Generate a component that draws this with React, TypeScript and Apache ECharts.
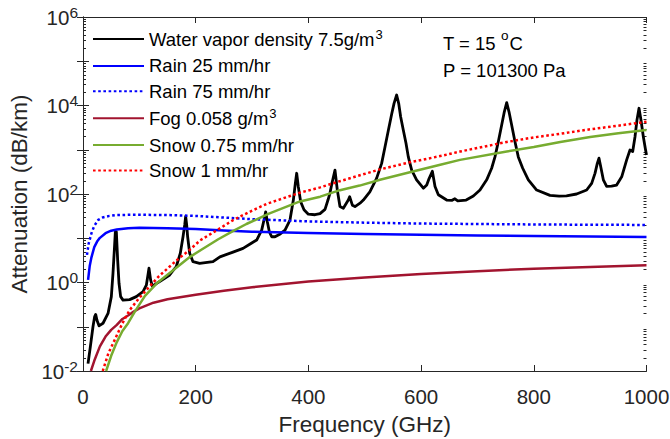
import React, { useEffect, useRef } from "react";
import * as echarts from "echarts";

const FONT = "'Liberation Sans', Arial, Helvetica, sans-serif";
const AXIS_COLOR = "#262626";

// x axis (GHz)
const xMin = 0;
const xMax = 1000;
const xInterval = 200;
// y axis (dB/km), log scale
const yMin = 0.01;
const yMax = 1e6;
// minor log ticks: multipliers within each decade, and decades covered
const minorMultipliers = [2, 3, 4, 5, 6, 7, 8, 9];
const minorDecades = [-2, -1, 0, 1, 2, 3, 4, 5];

const seriesNames = [
  "Water vapor density 7.5g/m3",
  "Rain 25 mm/hr",
  "Rain 75 mm/hr",
  "Fog 0.058 g/m3",
  "Snow 0.75 mm/hr",
  "Snow 1 mm/hr",
];

// [frequency GHz, attenuation dB/km]
const waterVapor: [number, number][] = [
  [8.9, 0.0147], [13, 0.035], [17.7, 0.1], [20.7, 0.17], [22.5, 0.19], [24.8, 0.14],
  [28.4, 0.105], [35.5, 0.12], [44.4, 0.2], [50.3, 0.48], [53.2, 1.6], [55.6, 5.4],
  [57.4, 14], [59.2, 14], [61.5, 3.2], [63.9, 0.96], [66.8, 0.48], [71, 0.4], [82.8, 0.41],
  [94.6, 0.48], [106.5, 0.62], [112.4, 0.87], [115, 1.4], [117.1, 2.1], [120, 1.14],
  [123, 0.83], [136, 1.05], [153.8, 1.48], [165.6, 2.3], [172.7, 4.6], [177.5, 10.8],
  [180.5, 20], [182.2, 31], [184, 20], [185.7, 10.8], [189.3, 4.6], [195.2, 2.95],
  [207, 2.7], [230.7, 2.95], [243, 3.8], [265, 4.8], [284, 5.9], [298, 7.6], [308.2, 9.1],
  [317.1, 15.3], [321.2, 25.8], [324.2, 39.5], [327.1, 23.7], [330.7, 14], [334.8, 10.8],
  [340.7, 10.8], [350, 12.5], [358.5, 15.3], [367.3, 25.8], [373.3, 73], [376.8, 174],
  [379.2, 294], [382.1, 146], [386.3, 67], [392.2, 44], [399.9, 35], [411.7, 34],
  [420.6, 36], [429.5, 45], [435, 75], [438.3, 105], [442, 180], [447.2, 347],
  [451.3, 123], [456, 52], [462, 47.5], [470.8, 73], [473.2, 87], [478, 56], [482.7, 52],
  [491.6, 62], [497.5, 73], [509, 112], [521, 226], [530, 492], [536, 1170], [542, 2790],
  [548, 6600], [552, 11200], [556.6, 17300], [560.2, 11200], [563.7, 5580], [568.4, 2790],
  [573.2, 1400], [577.3, 690], [583.3, 347], [592, 209], [604, 135], [610, 160],
  [614, 220], [620, 326], [624.7, 147], [630.6, 96], [645.4, 73], [655, 72], [660, 78],
  [665, 70], [680, 73], [692.7, 90], [704.5, 123], [716.4, 209], [725.2, 382],
  [731.1, 690], [737, 1520], [743, 3630], [747.7, 7200], [751.9, 11560], [756, 7200],
  [760.7, 3630], [766.6, 1520], [772.5, 690], [780.3, 382], [790.3, 209], [805.1, 123],
  [828.7, 93], [845, 90], [858, 91], [876, 100], [893.8, 123], [902.7, 174], [908.6, 293],
  [912.7, 492], [915.7, 645], [918.7, 420], [923.4, 209], [929.3, 148], [938, 150],
  [947, 159], [956, 245], [964.8, 590], [970.7, 985], [975.5, 910], [979.6, 1970],
  [983.1, 4700], [986.7, 8650], [990.2, 4700], [994.4, 1970], [997.9, 1070], [1000, 760],
];

const rain25: [number, number][] = [
  [9, 1.15], [12, 2.4], [15, 3.7], [20, 6.3], [25, 8.4], [30, 10.2], [40, 13], [50, 14.8],
  [60, 15.8], [80, 16.9], [100, 17.2], [150, 16.9], [200, 16.1], [250, 15], [300, 14.1],
  [400, 13.2], [500, 12.5], [600, 12], [700, 11.6], [800, 11.2], [900, 10.9], [1000, 10.7],
];

const rain75: [number, number][] = [
  [7, 4.2], [10, 7.5], [15, 13], [20, 19], [27, 26], [35, 29.5], [47, 32], [60, 33.5],
  [90, 34], [150, 33.5], [200, 32], [300, 27], [400, 24], [500, 22.5], [600, 21.5],
  [700, 21], [800, 20.5], [900, 20.2], [1000, 20],
];

const fog: [number, number][] = [
  [14, 0.01], [20, 0.017], [30, 0.036], [40, 0.06], [50, 0.085], [60, 0.11], [70, 0.15],
  [80, 0.18], [90, 0.22], [100, 0.26], [125, 0.35], [150, 0.42], [200, 0.53], [250, 0.65],
  [300, 0.78], [400, 1.05], [500, 1.3], [600, 1.55], [700, 1.8], [800, 2.05], [900, 2.25],
  [1000, 2.45],
];

const snow075: [number, number][] = [
  [41, 0.01], [50, 0.022], [60, 0.045], [70, 0.08], [80, 0.12], [92, 0.22], [110, 0.5],
  [131, 0.96], [160, 1.9], [190, 3.8], [210, 5.5], [240, 9.5], [266, 14.5], [290, 21],
  [330, 36], [385, 68], [421, 87], [456, 122], [491, 155], [527, 210], [580, 310],
  [634, 460], [669, 590], [752, 910], [800, 1150], [847, 1500], [900, 1950], [950, 2350],
  [1000, 2800],
];

const snow1: [number, number][] = [
  [35, 0.01], [45, 0.025], [59, 0.06], [70, 0.12], [83, 0.24], [100, 0.45], [118, 0.81],
  [135, 1.4], [154, 2.3], [170, 3.5], [189, 5.4], [208, 9], [231, 13.5], [267, 26],
  [300, 42], [326, 60], [385, 107], [421, 141], [453, 190], [527, 360], [580, 520],
  [634, 720], [669, 910], [752, 1500], [800, 1900], [847, 2300], [900, 2900], [950, 3500],
  [1000, 4300],
];

const legendRich: Record<string, string> = {
  "Water vapor density 7.5g/m3": "{n|Water vapor density 7.5g/m}{s|3}",
  "Rain 25 mm/hr": "{m|Rain 25 mm/hr}",
  "Rain 75 mm/hr": "{m|Rain 75 mm/hr}",
  "Fog 0.058 g/m3": "{n|Fog 0.058 g/m}{s|3}",
  "Snow 0.75 mm/hr": "{m|Snow 0.75 mm/hr}",
  "Snow 1 mm/hr": "{m|Snow 1 mm/hr}",
};

function buildOption(): any {
  const lineSeries = (
    name: string,
    data: [number, number][],
    color: string,
    width: number,
    dotted: boolean
  ) => ({
    type: "line",
    name,
    data,
    xAxisIndex: 0,
    yAxisIndex: 0,
    showSymbol: false,
    symbol: "none",
    smooth: false,
    clip: true,
    lineStyle: {
      color,
      width,
      type: dotted ? [2.6, 2.6] : "solid",
      cap: "butt",
      join: "round",
    },
    itemStyle: { color },
    emphasis: { disabled: true },
  });

  const yLabelFormatter = (v: number) => {
    const e = Math.round(Math.log10(v));
    if (e % 2 !== 0) return "";
    return `{b|10}{s|${e}}`;
  };

  const minorTickData: [number, number][] = [];
  minorDecades.forEach((d) =>
    minorMultipliers.forEach((m) => minorTickData.push([xMin, m * Math.pow(10, d)]))
  );

  const commonX = {
    type: "value",
    min: xMin,
    max: xMax,
    interval: xInterval,
    splitLine: { show: false },
    axisLine: { show: true, onZero: false, lineStyle: { color: AXIS_COLOR, width: 1 } },
    axisTick: { show: true, inside: true, length: 6, lineStyle: { color: AXIS_COLOR } },
  };

  const commonY = {
    type: "log",
    logBase: 10,
    min: yMin,
    max: yMax,
    splitLine: { show: false },
    axisLine: { show: true, lineStyle: { color: AXIS_COLOR, width: 1 } },
    axisTick: { show: true, inside: true, length: 6, lineStyle: { color: AXIS_COLOR } },
    minorTick: { show: false },
  };

  return {
    animation: false,
    backgroundColor: "#ffffff",
    grid: {
      left: 83,
      right: 23.5,
      top: 17,
      bottom: 68,
      containLabel: false,
      outerBoundsMode: "none",
    },
    legend: {
      orient: "vertical",
      left: 92,
      top: 28,
      itemWidth: 51,
      itemHeight: 14,
      itemGap: 6.4,
      padding: 0,
      selectedMode: false,
      data: seriesNames,
      itemStyle: { opacity: 0, borderWidth: 0 },
      formatter: (name: string) => legendRich[name] || name,
      textStyle: {
        fontFamily: FONT,
        fontSize: 18.5,
        color: "#000",
        padding: [0, 0, 0, 0],
        rich: {
          n: { fontFamily: FONT, fontSize: 18.5, color: "#000", lineHeight: 26, verticalAlign: "middle" },
          m: { fontFamily: FONT, fontSize: 18.5, color: "#000", lineHeight: 22, verticalAlign: "middle" },
          s: {
            fontFamily: FONT,
            fontSize: 13,
            color: "#000",
            lineHeight: 26,
            verticalAlign: "middle",
            padding: [0, 0, 9, 1],
          },
        },
      },
    },
    xAxis: [
      {
        ...commonX,
        position: "bottom",
        name: "Frequency (GHz)",
        nameLocation: "middle",
        nameGap: 42,
        nameTextStyle: { fontFamily: FONT, fontSize: 22.5, color: AXIS_COLOR },
        axisLabel: {
          show: true,
          margin: 15,
          fontFamily: FONT,
          fontSize: 20.5,
          color: AXIS_COLOR,
          formatter: (v: number) => String(v),
        },
      },
      {
        ...commonX,
        position: "top",
        axisLabel: { show: false },
      },
    ],
    yAxis: [
      {
        ...commonY,
        position: "left",
        name: "Attenuation (dB/km)",
        nameLocation: "middle",
        nameRotate: 90,
        nameGap: 51,
        nameTextStyle: { fontFamily: FONT, fontSize: 22.5, color: AXIS_COLOR },
        axisLabel: {
          show: true,
          margin: 5,
          formatter: yLabelFormatter,
          rich: {
            b: { fontFamily: FONT, fontSize: 20.5, color: AXIS_COLOR, lineHeight: 24, verticalAlign: "middle" },
            s: {
              fontFamily: FONT,
              fontSize: 15.5,
              color: AXIS_COLOR,
              lineHeight: 24,
              verticalAlign: "middle",
              padding: [0, 0, 10, 0],
            },
          },
        },
      },
      {
        ...commonY,
        position: "right",
        axisLabel: { show: false },
      },
    ],
    graphic: [
      {
        type: "text",
        left: 443,
        top: 28,
        silent: true,
        style: {
          text: "{n|T = 15 }{o|o}{n|C}",
          fill: "#000",
          rich: {
            n: { fontFamily: FONT, fontSize: 18.5, fill: "#000", lineHeight: 24, verticalAlign: "middle" },
            o: {
              fontFamily: FONT,
              fontSize: 13.5,
              fill: "#000",
              lineHeight: 24,
              verticalAlign: "middle",
              padding: [0, 1, 16, 0],
            },
          },
        },
      },
      {
        type: "text",
        left: 443,
        top: 61,
        silent: true,
        style: {
          text: "P = 101300 Pa",
          fill: "#000",
          fontFamily: FONT,
          fontSize: 18.5,
        },
      },
    ],
    series: [
      lineSeries(seriesNames[0], waterVapor, "#000000", 2.8, false),
      lineSeries(seriesNames[1], rain25, "#0000FF", 2.5, false),
      lineSeries(seriesNames[2], rain75, "#0000FF", 2.5, true),
      lineSeries(seriesNames[3], fog, "#A2142F", 2.5, false),
      lineSeries(seriesNames[4], snow075, "#77AC30", 2.5, false),
      lineSeries(seriesNames[5], snow1, "#FF0000", 2.5, true),
      {
        type: "custom",
        name: "minorTicks",
        silent: true,
        clip: false,
        xAxisIndex: 0,
        yAxisIndex: 0,
        data: minorTickData,
        renderItem: (params: any, api: any) => {
          const cs = params.coordSys;
          const y = Math.round(api.coord([xMin, api.value(1)])[1]) + 0.5;
          const len = 3;
          const style = { stroke: AXIS_COLOR, lineWidth: 1 };
          return {
            type: "group",
            children: [
              { type: "line", shape: { x1: cs.x, y1: y, x2: cs.x + len, y2: y }, style },
              {
                type: "line",
                shape: { x1: cs.x + cs.width - len, y1: y, x2: cs.x + cs.width, y2: y },
                style,
              },
            ],
          };
        },
      },
    ],
  };
}

export default function App() {
  const ref = useRef<HTMLDivElement>(null);
  useEffect(() => {
    if (!ref.current) return;
    const chart = echarts.init(ref.current, null, { renderer: "svg" });
    chart.setOption(buildOption());
    return () => {
      chart.dispose();
    };
  }, []);
  return (
    <div
      ref={ref}
      style={{ position: "absolute", left: 0, top: 0, width: 670, height: 439, background: "#fff" }}
    />
  );
}
